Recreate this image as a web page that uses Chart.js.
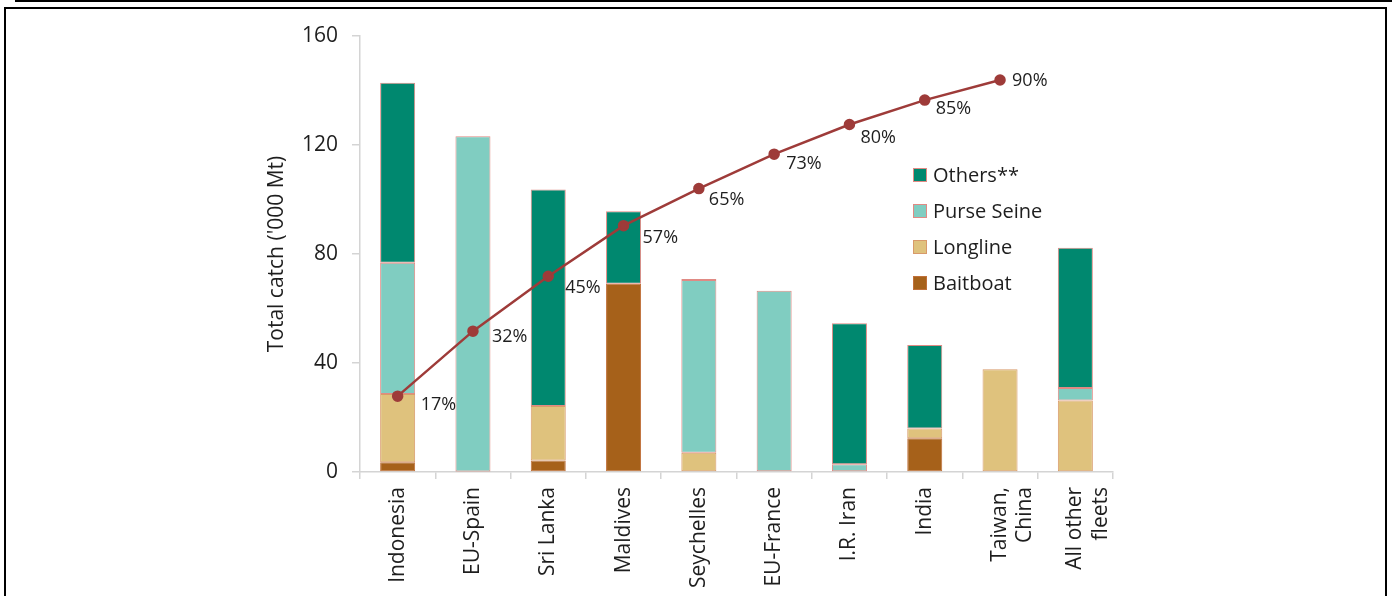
<!DOCTYPE html>
<html>
<head>
<meta charset="utf-8">
<script src="https://cdn.jsdelivr.net/npm/chart.js@4/dist/chart.umd.min.js"></script>
<style>
  html, body { margin: 0; padding: 0; background: #fff; overflow: hidden; }
  #wrap { position: relative; width: 1392px; height: 596px; }
  #grafico { position: absolute; left: 0; top: 0; }
  .linhaTopo { position: absolute; left: 15px; top: 0; width: 1377px; height: 2px; background: #000; }
  .moldura { position: absolute; left: 4px; top: 7px; width: 1379px; height: 600px; border: 2px solid #000; border-bottom: none; pointer-events: none; }
</style>
</head>
<body>
<div id="wrap">
  <canvas id="grafico" width="1392" height="596"></canvas>
  <div class="linhaTopo"></div>
  <div class="moldura"></div>
</div>
<script>
// categorias (frotas)
const fleets = ['Indonesia', 'EU-Spain', 'Sri Lanka', 'Maldives', 'Seychelles', 'EU-France',
  'I.R. Iran', 'India', ['Taiwan,', 'China'], ['All other', 'fleets']];

// captura total ('000 Mt) por arte de pesca (null = sem captura)
const baitboat   = [3.6, 0.2, 4.2, 69.1, null, null, null, 12.4, null, null];
const longline   = [25.0, null, 20.0, null, 7.1, null, null, 3.6, 37.7, 26.2];
const purseSeine = [48.2, 123.0, null, null, 63.4, 66.5, 2.8, null, null, 4.6];
const others     = [66.0, null, 79.5, 26.6, 0.3, null, 51.8, 30.6, null, 51.5];

// percentual acumulado
const cumulative = [17.4, 32.3, 44.9, 56.5, 65.0, 72.9, 79.7, 85.3, 89.9];
const cumulativeLabels = ['17%', '32%', '45%', '57%', '65%', '73%', '80%', '85%', '90%'];

const yTicks = [0, 40, 80, 120, 160];

const FONT = "'Open Sans', 'Noto Sans', sans-serif";
const TEXT = '#1e1e1e';

// rótulos do percentual acumulado (deslocamento de cada rótulo)
const labelOffsets = [[23, 9], [19, 6], [17, 12], [19, 12], [10, 11], [12, 10], [11, 13], [11, 9], [12, 1]];

const pctLabels = {
  id: 'pctLabels',
  afterDatasetsDraw(chart) {
    const meta = chart.getDatasetMeta(4);
    const ctx = chart.ctx;
    ctx.save();
    ctx.font = '18px ' + FONT;
    ctx.fillStyle = TEXT;
    ctx.textAlign = 'left';
    ctx.textBaseline = 'middle';
    meta.data.forEach((pt, i) => {
      const off = labelOffsets[i] || [12, 10];
      ctx.fillText(cumulativeLabels[i], pt.x + off[0], pt.y + off[1]);
    });
    ctx.restore();
  }
};

// legenda dentro da área do gráfico
const legendaInterna = {
  id: 'legendaInterna',
  afterDraw(chart) {
    const ctx = chart.ctx;
    const order = [3, 2, 1, 0];
    ctx.save();
    ctx.font = '20px ' + FONT;
    ctx.textBaseline = 'middle';
    ctx.textAlign = 'left';
    order.forEach((di, k) => {
      const ds = chart.data.datasets[di];
      const y = 175 + k * 36;
      ctx.fillStyle = ds.backgroundColor;
      ctx.fillRect(913, y - 7, 14, 14);
      ctx.strokeStyle = ds.borderColor;
      ctx.lineWidth = 1;
      ctx.strokeRect(913.5, y - 6.5, 13, 13);
      ctx.fillStyle = TEXT;
      ctx.fillText(ds.label, 933, y + 1);
    });
    ctx.restore();
  }
};

function barSet(label, data, color, border) {
  return {
    type: 'bar',
    label: label,
    data: data,
    backgroundColor: color,
    borderColor: border,
    borderWidth: 1,
    borderSkipped: false,
    barPercentage: 0.465,
    categoryPercentage: 1,
    order: 1,
  };
}

const ctx = document.getElementById('grafico').getContext('2d');
const myChart = new Chart(ctx, {
  type: 'bar',
  data: {
    labels: fleets,
    datasets: [
      barSet('Baitboat', baitboat, '#a6611a', '#c0703a'),
      barSet('Longline', longline, '#dfc27d', '#d89a6a'),
      barSet('Purse Seine', purseSeine, '#80cdc1', '#e08a84'),
      barSet('Others**', others, '#00886f', '#e08a84'),
      {
        type: 'line',
        label: 'Cumulative',
        data: cumulative,
        yAxisID: 'y1',
        borderColor: '#9e3b39',
        backgroundColor: '#9e3b39',
        borderWidth: 2.5,
        pointRadius: 4.5,
        pointHoverRadius: 4.5,
        tension: 0,
        order: 0,
      },
    ],
  },
  options: {
    responsive: false,
    animation: false,
    events: [],
    layout: { padding: { left: 264, right: 279, top: 36, bottom: 0 } },
    plugins: {
      legend: { display: false },
      tooltip: { enabled: false },
    },
    scales: {
      x: {
        stacked: true,
        offset: true,
        grid: {
          offset: true,
          drawOnChartArea: false,
          drawTicks: true,
          tickLength: 7,
          color: '#d4d4d4',
          lineWidth: 1.5,
        },
        border: { color: '#d4d4d4', width: 1.5 },
        ticks: {
          minRotation: 90,
          maxRotation: 90,
          autoSkip: false,
          padding: 8,
          color: TEXT,
          font: { family: FONT, size: 21 },
        },
        afterFit(scale) { scale.height = 124; },
      },
      y: {
        stacked: true,
        min: 0,
        max: 160,
        afterBuildTicks(scale) { scale.ticks = yTicks.map(v => ({ value: v })); },
        grid: {
          drawOnChartArea: false,
          drawTicks: true,
          tickLength: 8,
          color: '#d4d4d4',
          lineWidth: 1.5,
        },
        border: { color: '#d4d4d4', width: 1.5 },
        ticks: {
          padding: 14,
          color: TEXT,
          font: { family: FONT, size: 21 },
        },
        title: {
          display: true,
          text: "Total catch ('000 Mt)",
          color: TEXT,
          font: { family: FONT, size: 21 },
          padding: 0,
        },
        afterFit(scale) { scale.width = 96; },
      },
      y1: {
        display: false,
        min: 0,
        max: 100,
      },
    },
  },
  plugins: [pctLabels, legendaInterna],
});
</script>
</body>
</html>
